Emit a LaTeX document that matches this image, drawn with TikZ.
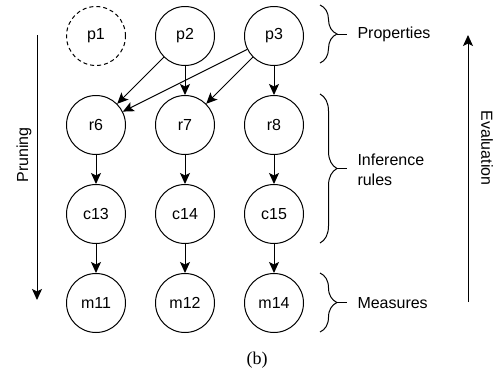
\documentclass[tikz,border=0pt]{standalone}
\usepackage{fontspec}
\setmainfont{Liberation Sans}
\newfontfamily\capfont{Liberation Serif}
\usetikzlibrary{arrows.meta,decorations.pathreplacing}

\begin{document}
\begin{tikzpicture}[x=1pt,y=-1pt,line width=1pt,
    every node/.style={font=\fontsize{16}{20}\selectfont},
    state/.style={circle,draw,minimum size=59pt,inner sep=0pt},
    link/.style={-{Stealth[length=11pt,width=10pt,inset=2.5pt]}},
    grp/.style={decorate,decoration={brace,amplitude=17pt}},
    tag/.style={anchor=west,inner xsep=10pt,align=left}]
  \useasboundingbox (0,0) rectangle (503,375);
  % nodes
  \node[state,dash pattern=on 4pt off 3pt] (p1) at (96,36) {p1};
  \node[state] (p2) at (185,36) {p2};
  \node[state] (p3) at (274,36) {p3};
  \node[state] (r6) at (96,125) {r6};
  \node[state] (r7) at (185,125) {r7};
  \node[state] (r8) at (274,125) {r8};
  \node[state] (c13) at (96,214) {c13};
  \node[state] (c14) at (185,214) {c14};
  \node[state] (c15) at (274,214) {c15};
  \node[state] (m11) at (96,303) {m11};
  \node[state] (m12) at (185,303) {m12};
  \node[state] (m14) at (274,303) {m14};
  \foreach \s/\t in {p2/r6,p2/r7,p3/r6,p3/r7,p3/r8,r6/c13,r7/c14,r8/c15,c13/m11,c14/m12,c15/m14}
    \draw[link] (\s) -- (\t);
  % braces
  \draw[grp] (320,5) -- (320,63);
  \coordinate (t1) at (337,34);
  \node[tag] (lp) at (347,34) {Properties};
  \draw (t1) -- (lp.west);
  \draw[grp] (320,94) -- (320,243);
  \coordinate (t2) at (337,168.5);
  \node[tag] (lr) at (347,170) {Inference\\rules};
  \draw (t2) -- (t2 -| lr.west);
  \draw[grp] (320,273) -- (320,332);
  \coordinate (t3) at (337,302.5);
  \node[tag] (lm) at (347,303) {Measures};
  \draw (t3) -- (t3 -| lm.west);
  % direction arrows
  \coordinate (pa) at (37,35);
  \coordinate (pb) at (37,300);
  \draw[link] (pa) -- (pb);
  \node[rotate=90] (prune) at (24,155) {Pruning};
  \coordinate (ea) at (468,302);
  \coordinate (eb) at (468,35);
  \draw[link] (ea) -- (eb);
  \node[rotate=-90] (eval) at (487,148) {Evaluation};
  \node[font=\capfont\fontsize{18}{20}\selectfont] (cap) at (257,360) {(b)};
\end{tikzpicture}
\end{document}
